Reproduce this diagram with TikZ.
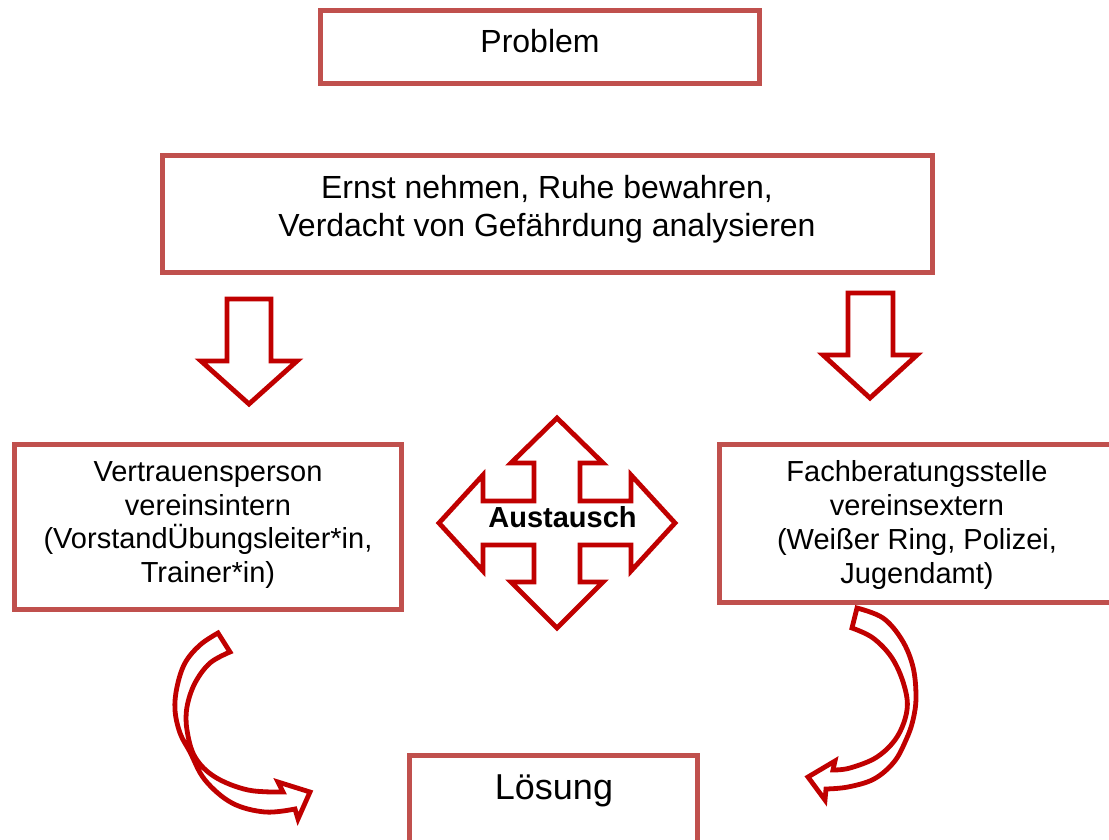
\documentclass[tikz,border=0pt]{standalone}
\usepackage{fontspec}
\setmainfont{Liberation Sans}
\usepackage{tikz}
\usetikzlibrary{positioning}
\definecolor{boxred}{HTML}{C0504D}
\definecolor{arrowred}{HTML}{C00000}
\tikzset{
  box/.style={draw=boxred, line width=2.5pt, fill=white, inner sep=0pt},
  txt/.style={align=center, inner sep=0pt},
  blockarrow/.style={draw=arrowred, line width=2.4pt, fill=white, line join=miter},
}

\begin{document}
\begin{tikzpicture}[x=0.5pt, y=-0.5pt]

  \useasboundingbox (0,0) rectangle (1109,840);
  \clip (0,0) rectangle (1109,840);

  \newcommand\boxfont{\fontsize{14.5pt}{16.85pt}\selectfont}

  %% boxes
  \node[box, minimum width=219.5pt, minimum height=36.5pt] (problem) at (540,47) {};
  \node[txt, font=\fontsize{16pt}{19pt}\selectfont] (problemtext) at (540,41) {Problem};

  \node[box, minimum width=385pt, minimum height=58.5pt] (ernst) at (547,214) {};
  \node[txt, font=\fontsize{16pt}{19pt}\selectfont] (ernsttext) at (547,209)
    {Ernst nehmen, Ruhe bewahren,\\Verdacht von Gefährdung analysieren};

  \node[box, minimum width=193.5pt, minimum height=82.5pt] (intern) at (208,527) {};
  \node[txt, font=\boxfont] (interntext) at (208,525)
    {Vertrauensperson\\vereinsintern\\(VorstandÜbungsleiter*in,\\Trainer*in)};

  \node[box, minimum width=197.5pt, minimum height=79pt] (extern) at (917,523.5) {};
  \node[txt, font=\boxfont] (externtext) at (917,525)
    {Fachberatungsstelle\\vereinsextern\\(Weißer Ring, Polizei,\\Jugendamt)};

  \node[box, minimum width=144pt, minimum height=45pt] (loesung) at (553.5,800) {};
  \node[txt, font=\fontsize{18pt}{21pt}\selectfont] (loesungtext) at (554,791) {Lösung};

  %% down arrows
  \draw[blockarrow] (227,299) -- (271,299) -- (271,361) -- (297,361) -- (249,404)
    -- (201,361) -- (227,361) -- cycle; % left
  \draw[blockarrow] (848,293) -- (893,293) -- (893,355) -- (917,355) -- (870,398)
    -- (823,355) -- (848,355) -- cycle; % right

  %% four way arrow
  \begin{scope}[shift={(557,523)}]
    \draw[blockarrow] (0,-105) -- (46,-60) -- (23,-60) -- (23,-22) -- (74,-22)
      -- (74,-48) -- (118,0) -- (74,48) -- (74,22) -- (23,22) -- (23,59)
      -- (46,59) -- (0,105) -- (-46,59) -- (-23,59) -- (-23,22) -- (-74,22)
      -- (-74,48) -- (-118,0) -- (-74,-48) -- (-74,-22) -- (-23,-22)
      -- (-23,-60) -- (-46,-60) -- cycle;
  \end{scope}
  \node[txt, font=\fontsize{14.5pt}{17pt}\selectfont\bfseries] (austausch) at (562.5,517) {Austausch};

  %% curved arrows
  \draw[blockarrow] plot[smooth, tension=0.6] coordinates {(218,633) (200,645) (185,663)
      (177,687) (175,710) (180,733) (190,752) (205,780) (232,803) (265,812) (295,809)}
    -- (298,819) -- (310,792) -- (278,782)
    -- plot[smooth, tension=0.6] coordinates {(283,792) (248,790) (215,777) (195,757)
      (187,730) (187,707) (195,683) (210,663) (230,652)} -- cycle; % left
  \draw[blockarrow] plot[smooth, tension=0.6] coordinates {(857,608) (883,618) (902,640)
      (913,667) (916,697) (913,720) (906,740) (894,762) (874,779) (848,787) (826,789)}
    -- (825,800) -- (808,777) -- (835,761)
    -- plot[smooth, tension=0.6] coordinates {(833,770) (850,768) (877,757) (897,737)
      (907,710) (904,685) (892,658) (873,638) (852,628)} -- cycle; % right

\end{tikzpicture}
\end{document}
